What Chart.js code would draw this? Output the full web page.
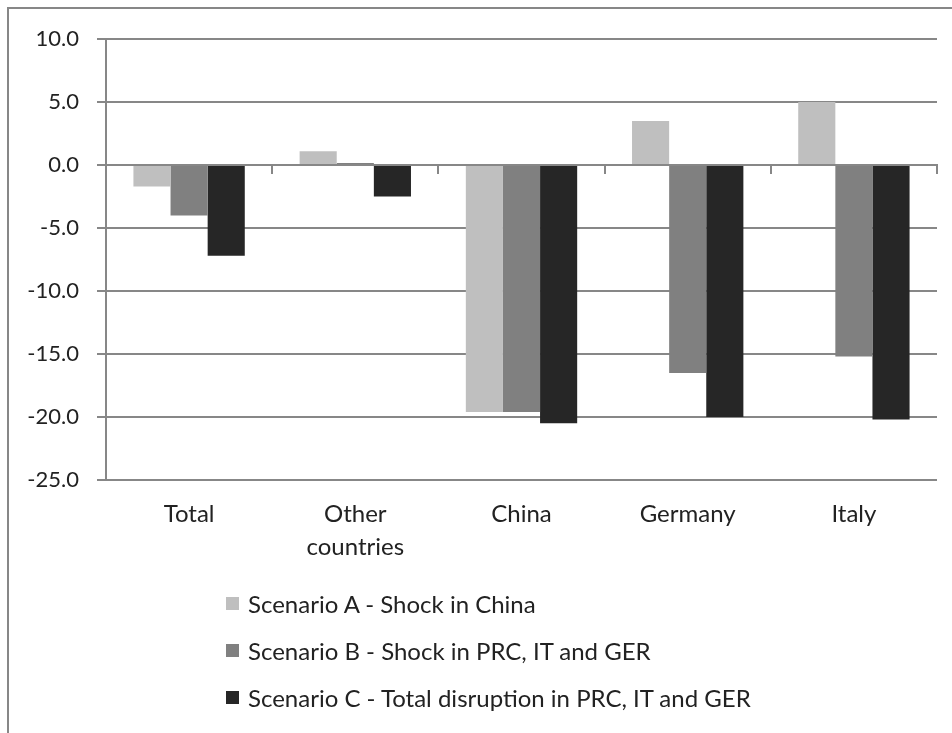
<!DOCTYPE html>
<html lang="en">
<head>
    <meta charset="UTF-8">
    <title>Scenarios</title>
    <script src="https://cdn.jsdelivr.net/npm/chart.js"></script>
    <style>
        body {
            margin: 0;
            padding: 0;
            background: #fff;
            font-family: Lato, sans-serif;
        }

        .marco {
            position: absolute;
            left: 7px;
            top: 7px;
            width: 1000px;
            height: 800px;
            border: 2px solid #878787;
        }

        .lienzo {
            position: absolute;
            left: 0;
            top: 0;
            width: 952px;
            height: 733px;
        }

        .leyenda {
            position: absolute;
            left: 226px;
            top: 580px;
            color: #222;
            font-size: 24px;
        }

        .leyenda div {
            display: flex;
            align-items: center;
            height: 47px;
        }

        .leyenda span.caja {
            display: inline-block;
            width: 13px;
            height: 13px;
            margin-right: 9px;
        }
    </style>
</head>
<body>
    <div class="marco"></div>
    <div class="lienzo"><canvas id="grafica" width="952" height="733"></canvas></div>
    <div class="leyenda" id="leyenda"></div>

    <script>
        const categorias = [['Total'], ['Other', 'countries'], ['China'], ['Germany'], ['Italy']];
        const nombresSeries = [
            'Scenario A - Shock in China',
            'Scenario B - Shock in PRC, IT and GER',
            'Scenario C - Total disruption in PRC, IT and GER'
        ];
        const escenarioA = [-1.7, 1.1, -19.6, 3.5, 5.0];
        const escenarioB = [-4.0, 0.15, -19.6, -16.5, -15.2];
        const escenarioC = [-7.2, -2.5, -20.5, -20.0, -20.2];
        const colores = ['#BFBFBF', '#808080', '#262626'];

        const gris = '#878787';
        const fuente = { family: 'Lato', size: 22 };

        const datasets = [escenarioA, escenarioB, escenarioC].map((serie, i) => ({
            label: nombresSeries[i],
            data: serie,
            backgroundColor: colores[i],
            borderWidth: 0,
            categoryPercentage: 0.67,
            barPercentage: 1.0
        }));

        const ctx = document.getElementById('grafica').getContext('2d');
        const grafica = new Chart(ctx, {
            type: 'bar',
            data: {
                labels: categorias,
                datasets
            },
            options: {
                responsive: false,
                animation: false,
                layout: { padding: { top: 39, right: 15, left: 0, bottom: 0 } },
                plugins: {
                    legend: { display: false },
                    tooltip: { enabled: false }
                },
                scales: {
                    x: {
                        position: { y: 0 },
                        offset: true,
                        ticks: { display: false },
                        grid: {
                            offset: true,
                            drawOnChartArea: false,
                            drawTicks: true,
                            tickLength: 8,
                            color: gris,
                            lineWidth: 2
                        },
                        border: { color: gris, width: 2 }
                    },
                    x2: {
                        type: 'category',
                        labels: categorias,
                        position: 'bottom',
                        offset: true,
                        grid: { display: false },
                        border: { display: false },
                        ticks: {
                            font: { family: 'Lato', size: 24, lineHeight: 1.375 },
                            color: '#222',
                            padding: 10,
                            maxRotation: 0,
                            autoSkip: false
                        },
                        afterFit: (escala) => { escala.height = 253; }
                    },
                    y: {
                        min: -25,
                        max: 10,
                        ticks: {
                            stepSize: 5,
                            font: fuente,
                            color: '#222',
                            padding: 18,
                            callback: (v) => v.toFixed(1)
                        },
                        grid: {
                            color: gris,
                            lineWidth: 2,
                            tickLength: 9
                        },
                        border: { color: gris, width: 2 },
                        afterFit: (escala) => { escala.width = 106; }
                    }
                }
            }
        });

        // leyenda vertical como en el original
        const leyenda = document.getElementById('leyenda');
        grafica.data.datasets.forEach((ds) => {
            const fila = document.createElement('div');
            const caja = document.createElement('span');
            caja.className = 'caja';
            caja.style.background = ds.backgroundColor;
            fila.appendChild(caja);
            fila.appendChild(document.createTextNode(ds.label));
            leyenda.appendChild(fila);
        });
    </script>
</body>
</html>
